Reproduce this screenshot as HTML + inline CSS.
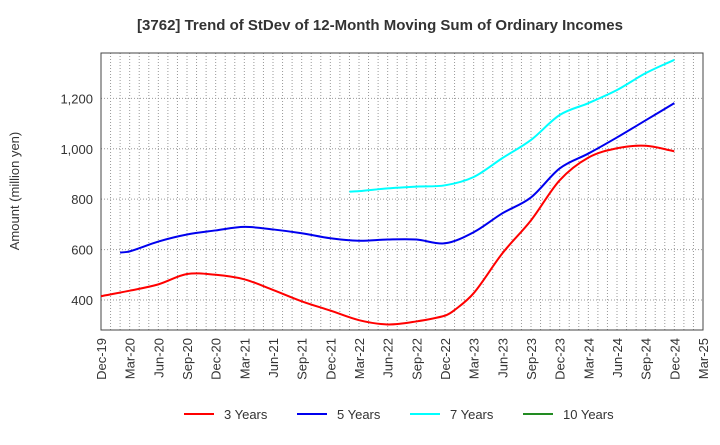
<!DOCTYPE html>
<html><head><meta charset="utf-8"><style>
body{margin:0;background:#fff;font-family:"Liberation Sans",sans-serif}
</style></head><body>
<svg id="c" width="720" height="440" xmlns="http://www.w3.org/2000/svg" font-family="Liberation Sans, sans-serif"></svg>
<script>
const categories=["Dec-19","Mar-20","Jun-20","Sep-20","Dec-20","Mar-21","Jun-21","Sep-21","Dec-21","Mar-22","Jun-22","Sep-22","Dec-22","Mar-23","Jun-23","Sep-23","Dec-23","Mar-24","Jun-24","Sep-24","Dec-24","Mar-25"];
const yTicks=[400,600,800,1000,1200];
const m3=[0,3,6,9,12,15,18,21,24,27,30,33,36,37,39,42,45,48,51,54,57,60];
const s3=[415,437,462,503,500,482,440,395,358,320,303,315,338,360,427,585,716,875,965,1002,1012,990];
const m5=[2,3,6,9,12,15,18,21,24,27,30,33,36,39,42,45,48,51,54,57,60];
const s5=[588,593,632,660,676,690,680,665,645,635,640,640,625,669,744,807,922,981,1045,1113,1181];
const m7=[26,27,30,33,36,39,42,45,48,51,54,57,60];
const s7=[830,832,843,850,855,888,963,1035,1134,1181,1233,1300,1353];
const m10=[];
const s10=[];
const svg=document.getElementById('c');const NS="http://www.w3.org/2000/svg";
const L=101,R=703,T=53,B=330,ymin=281,ymax=1380;
const nM=(categories.length-1)*3;
const xm=m=>L+m*(R-L)/nM;
const x=i=>xm(i*3);
const y=v=>B-(v-ymin)/(ymax-ymin)*(B-T);
function el(t,a,p){const e=document.createElementNS(NS,t);for(const k in a)e.setAttribute(k,a[k]);(p||svg).appendChild(e);return e;}
const title=el('text',{x:380,y:30,'text-anchor':'middle','font-size':15,'font-weight':'bold',fill:'#333'});

title.textContent='[3762]  Trend of StDev of 12-Month Moving Sum of Ordinary Incomes';
const grid=el('g',{});
for(let m=1;m<nM;m++){const xx=xm(m);el('line',{x1:xx,x2:xx,y1:T,y2:B,stroke:'#999','stroke-dasharray':'1,2','stroke-width':1},grid);}
yTicks.forEach(v=>{el('line',{x1:L,x2:R,y1:y(v),y2:y(v),stroke:'#999','stroke-dasharray':'1,2'},grid);
const t=el('text',{x:L-8,y:y(v)+5,'text-anchor':'end','font-size':13,fill:'#333'});t.textContent=v.toLocaleString('en-US');});
categories.forEach((c,i)=>{const t=el('text',{transform:`translate(${x(i)+5},${B+8}) rotate(-90)`,'text-anchor':'end','font-size':13,fill:'#333'});t.textContent=c;});
const fr=el('rect',{x:L,y:T,width:R-L,height:B-T,fill:'none',stroke:'#444','stroke-width':1});
const yt=el('text',{transform:'translate(19,191) rotate(-90)','text-anchor':'middle','font-size':13,fill:'#333'});yt.textContent='Amount (million yen)';
function path(ms,arr){const p=arr.map((v,i)=>[xm(ms[i]),y(v)]);if(p.length<2)return '';
let d=`M${p[0][0]},${p[0][1]}`;for(let i=0;i<p.length-1;i++){const p0=p[i-1]||p[i],p1=p[i],p2=p[i+1],p3=p[i+2]||p2;
const k=(p2[0]-p1[0]);const s0=(p2[1]-p0[1])/(p2[0]-p0[0]||1),s1=(p3[1]-p1[1])/(p3[0]-p1[0]||1);
d+=` C${p1[0]+k/3},${p1[1]+s0*k/3} ${p2[0]-k/3},${p2[1]-s1*k/3} ${p2[0]},${p2[1]}`;}return d;}
[[m3,s3,'#ff0000','series-3-years'],[m5,s5,'#0000ee','series-5-years'],[m7,s7,'#00ffff','series-7-years'],[m10,s10,'#228b22','series-10-years']].forEach(([ms,a,c,n])=>{const d=path(ms,a);if(!d)return;const e=el('path',{d,fill:'none',stroke:c,'stroke-width':2});});
[['3 Years','#ff0000',184],['5 Years','#0000ee',297],['7 Years','#00ffff',410],['10 Years','#228b22',523]].forEach(([l,c,lx])=>{const g=el('g',{});
el('line',{x1:lx,x2:lx+30,y1:414,y2:414,stroke:c,'stroke-width':2},g);const t=el('text',{x:lx+40,y:419,'font-size':13,fill:'#333'},g);t.textContent=l;});
</script></body></html>
